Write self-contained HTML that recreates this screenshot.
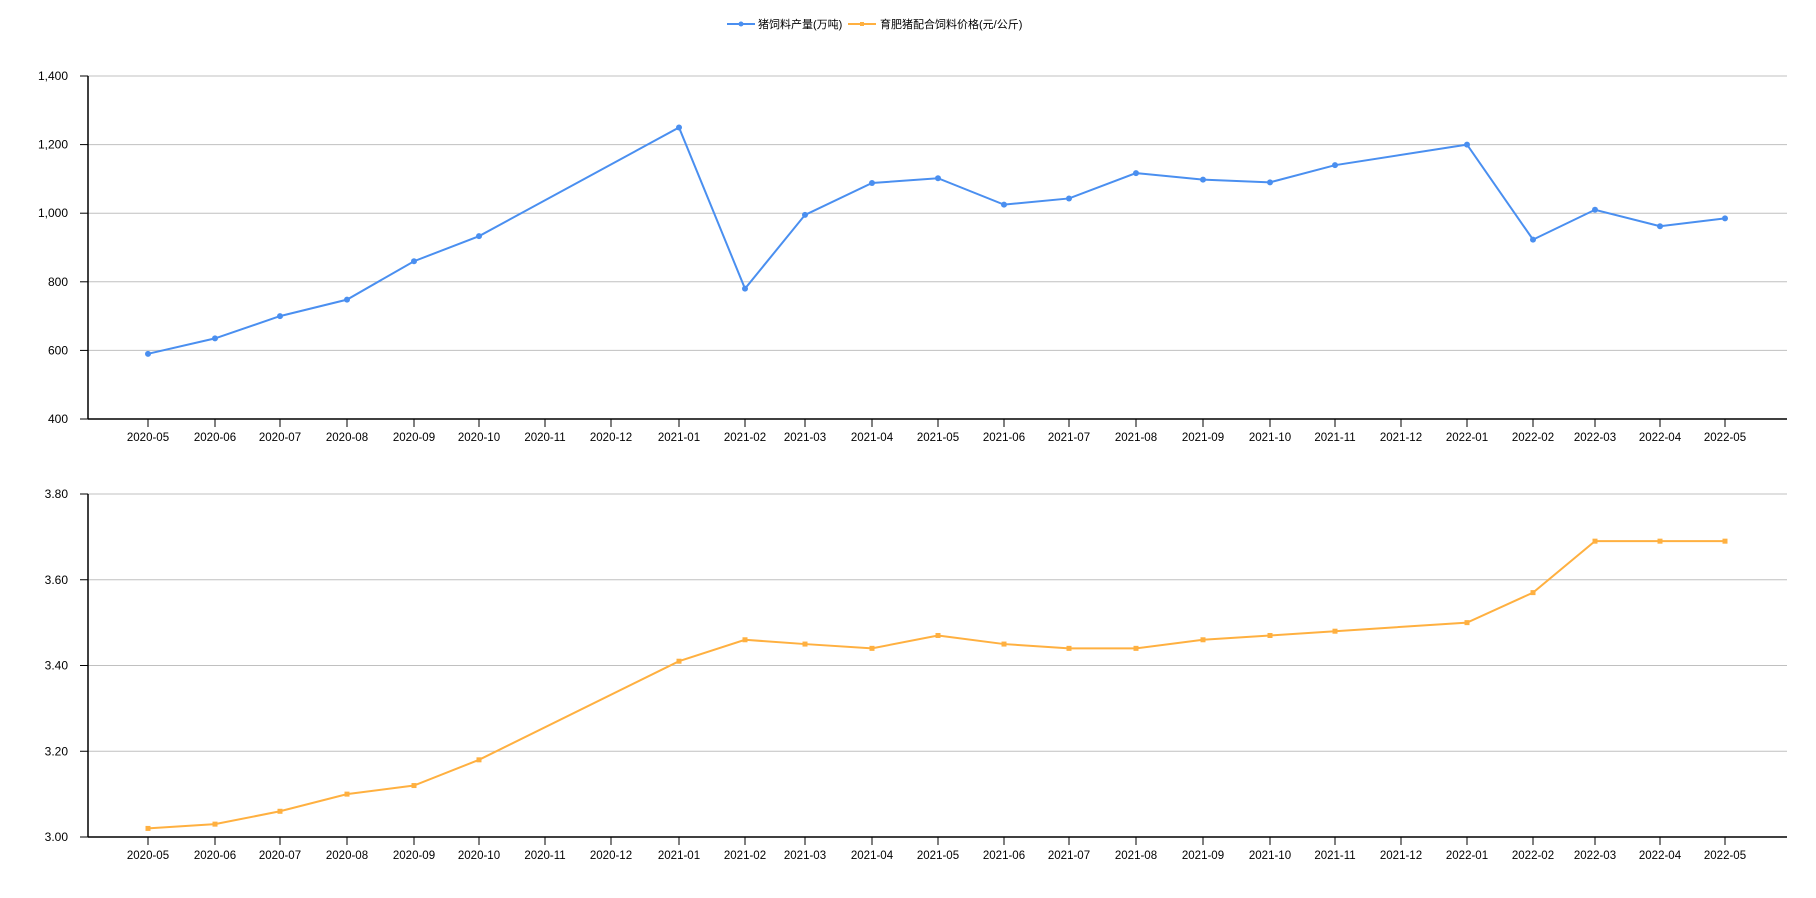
<!DOCTYPE html>
<html><head><meta charset="utf-8"><style>body{margin:0;background:#fff}svg{display:block}text{font-family:"Liberation Sans","Noto Sans CJK SC",sans-serif;font-size:12px;fill:#000}</style></head><body>
<svg id="c" width="1816" height="898" xmlns="http://www.w3.org/2000/svg"></svg>
<script>
(function(){
const xs=[148,215,280,347,414,479,545,611,679,745,805,872,938,1004,1069,1136,1203,1270,1335,1401,1467,1533,1595,1660,1725];
const labs=["2020-05","2020-06","2020-07","2020-08","2020-09","2020-10","2020-11","2020-12","2021-01","2021-02","2021-03","2021-04","2021-05","2021-06","2021-07","2021-08","2021-09","2021-10","2021-11","2021-12","2022-01","2022-02","2022-03","2022-04","2022-05"];
const vTop=[590,635,700,748,860,933,null,null,1250,780,995,1088,1102,1025,1043,1117,1098,1090,1140,null,1200,923,1010,962,985];
const vBot=[3.02,3.03,3.06,3.10,3.12,3.18,null,null,3.41,3.46,3.45,3.44,3.47,3.45,3.44,3.44,3.46,3.47,3.48,null,3.50,3.57,3.69,3.69,3.69];
let s="";
s+=`<line x1="727" y1="24" x2="755" y2="24" stroke="#4a8ff0" stroke-width="2"/><circle cx="741" cy="24" r="2.5" fill="#4a8ff0"/>`;
s+=`<text x="758" y="28" style="font-size:11px">猪饲料产量(万吨)</text>`;
s+=`<line x1="848" y1="24" x2="876" y2="24" stroke="#ffb040" stroke-width="2"/><rect x="860" y="22" width="4" height="4" fill="#ffb040"/>`;
s+=`<text x="880" y="28" style="font-size:11px">育肥猪配合饲料价格(元/公斤)</text>`;
function fmtN(t){return t>=1000?Math.floor(t/1000)+","+String(t%1000).padStart(3,"0"):String(t);}
function chart(y0,y1,vals,ticks,fmt,min,max,col,circ){
 ticks.forEach(t=>{const y=y1-(t-min)/(max-min)*(y1-y0);
  if(t!==min) s+=`<line x1="88" y1="${y}" x2="1787" y2="${y}" stroke="#c0c0c0"/>`;
  s+=`<line x1="80" y1="${y}" x2="88" y2="${y}" stroke="#000"/>`;
  s+=`<text x="68" y="${y+4}" text-anchor="end">${fmt(t)}</text>`;});
 s+=`<line x1="88" y1="${y0}" x2="88" y2="${y1}" stroke="#000" stroke-width="1.5"/>`;
 s+=`<line x1="88" y1="${y1}" x2="1787" y2="${y1}" stroke="#000" stroke-width="1.5"/>`;
 xs.forEach((x,i)=>{s+=`<line x1="${x}" y1="${y1}" x2="${x}" y2="${y1+8}" stroke="#000"/>`;
  s+=`<text x="${x}" y="${y1+22}" text-anchor="middle" style="font-size:11.5px">${labs[i]}</text>`;});
 let pts=[];vals.forEach((v,i)=>{if(v!==null)pts.push([xs[i],y1-(v-min)/(max-min)*(y1-y0)]);});
 s+=`<polyline points="${pts.map(p=>p.join(',')).join(' ')}" fill="none" stroke="${col}" stroke-width="2"/>`;
 pts.forEach(p=>{s+=circ?`<circle cx="${p[0]}" cy="${p[1]}" r="3" fill="${col}"/>`:`<rect x="${p[0]-2.5}" y="${p[1]-2.5}" width="5" height="5" fill="${col}"/>`;});
}
chart(76,419,vTop,[400,600,800,1000,1200,1400],fmtN,400,1400,"#4a8ff0",true);
chart(494,837,vBot,[3.0,3.2,3.4,3.6,3.8],t=>t.toFixed(2),3.0,3.8,"#ffb040",false);
document.getElementById("c").innerHTML=s;
})();
</script>
</body></html>
